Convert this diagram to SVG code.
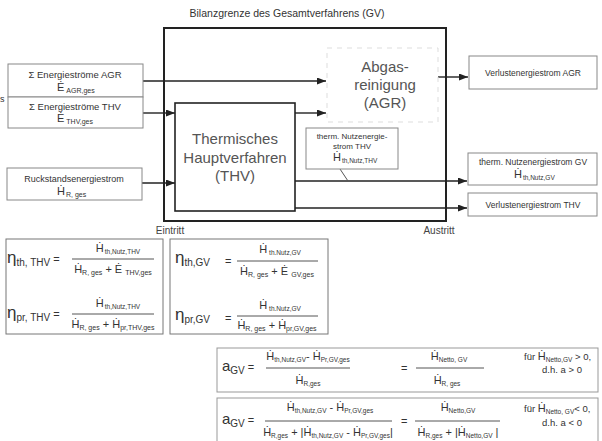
<svg xmlns="http://www.w3.org/2000/svg" width="602" height="441" viewBox="0 0 602 441">
  <style>
    text { font-family: "Liberation Sans", Arial, sans-serif; fill: #333; }
    .title { font-size: 10.5px; }
    .lbl { font-size: 9px; text-anchor: middle; }
    .big { font-size: 15px; text-anchor: middle; fill: #555; }
    .edge { font-size: 10px; text-anchor: middle; fill: #444; }
    .hd { font-size: 11px; }
    .sb7 { font-size: 7px; }
    .sb6 { font-size: 6.5px; }
    .op { font-size: 11px; }
    .eta { font-size: 17px; }
    .sub10 { font-size: 10px; }
    .aa { font-size: 15px; }
    .fur { font-size: 9.5px; }
    .mid { text-anchor: middle; }
    .box { fill: #fff; stroke: #888; stroke-width: 1; }
    .fbox { fill: none; stroke: #777; stroke-width: 1; }
    .fbox2 { fill: none; stroke: #999; stroke-width: 1; }
    .frac { stroke: #555; stroke-width: 1; }
    .flow { stroke: #222; stroke-width: 1.4; fill: none; }
  </style>
  <defs>
    <marker id="ah" markerWidth="9" markerHeight="7" refX="9" refY="3.5" orient="auto" markerUnits="userSpaceOnUse">
      <path d="M0,0 L9,3.5 L0,7 z" fill="#222"/>
    </marker>
  </defs>
  <rect width="602" height="441" fill="#fff"/>

  <text class="title" x="287" y="17" text-anchor="middle">Bilanzgrenze des Gesamtverfahrens (GV)</text>
  <text x="0" y="102" style="font-size:9px">s</text>

  <!-- system boundary -->
  <g id="gv-boundary">
    <rect x="164" y="28" width="282" height="193" fill="none" stroke="#222" stroke-width="2"/>
    <text class="edge" x="170" y="234">Eintritt</text>
    <text class="edge" x="439" y="234">Austritt</text>
  </g>

  <!-- connectors -->
  <g id="connectors">
    <line class="flow" x1="143" y1="81" x2="326" y2="81" marker-end="url(#ah)"/>
    <line class="flow" x1="143" y1="113" x2="175" y2="113" marker-end="url(#ah)"/>
    <line class="flow" x1="295" y1="113" x2="326" y2="113" marker-end="url(#ah)"/>
    <line class="flow" x1="142" y1="183" x2="175" y2="183" marker-end="url(#ah)"/>
    <line class="flow" x1="295" y1="181" x2="467" y2="181" marker-end="url(#ah)"/>
    <line class="flow" x1="295" y1="208" x2="467" y2="208" marker-end="url(#ah)"/>
    <line class="flow" x1="438" y1="77" x2="468" y2="77" marker-end="url(#ah)"/>
    <line x1="340" y1="169" x2="348" y2="181" stroke="#555" stroke-width="1"/>
  </g>

  <!-- inputs -->
  <g id="in-agr">
    <rect class="box" x="8" y="64" width="135" height="33"/>
    <text class="lbl" x="75" y="78" style="font-size:9.5px">Σ Energieströme AGR</text>
    <text x="57" y="91"><tspan class="hd">Ė</tspan><tspan class="sb7" dx="2" dy="2">AGR,ges</tspan></text>
  </g>
  <g id="in-thv">
    <rect class="box" x="8" y="97" width="135" height="31"/>
    <text class="lbl" x="75" y="110" style="font-size:9.5px">Σ Energieströme THV</text>
    <text x="57" y="122"><tspan class="hd">Ė</tspan><tspan class="sb7" dx="2" dy="2">THV,ges</tspan></text>
  </g>
  <g id="in-rueck">
    <rect class="box" x="7" y="168" width="135" height="32"/>
    <text class="lbl" x="74" y="182">Ruckstandsenergiestrom</text>
    <text x="57" y="195"><tspan class="hd">Ḣ</tspan><tspan class="sb7" dx="1" dy="2">R, ges</tspan></text>
  </g>

  <!-- processes -->
  <g id="thv">
    <rect x="175" y="103" width="120" height="108" fill="#fff" stroke="#222" stroke-width="1.6"/>
    <text class="big" x="235" y="144">Thermisches</text>
    <text class="big" x="235" y="163">Hauptverfahren</text>
    <text class="big" x="235" y="181">(THV)</text>
  </g>
  <g id="agr">
    <rect x="327" y="48" width="111" height="74" fill="none" stroke="#ddd" stroke-width="1" stroke-dasharray="5 5"/>
    <text class="big" x="385" y="72">Abgas-</text>
    <text class="big" x="385" y="90">reinigung</text>
    <text class="big" x="385" y="108">(AGR)</text>
  </g>
  <g id="nutz-thv">
    <rect class="box" x="306" y="128" width="92" height="41"/>
    <text class="lbl" x="352" y="139" style="font-size:8px">therm. Nutzenergie-</text>
    <text class="lbl" x="352" y="149" style="font-size:8px">strom THV</text>
    <text x="333" y="161"><tspan class="hd">Ḣ</tspan><tspan class="sb6" dx="1" dy="2">th,Nutz,THV</tspan></text>
  </g>

  <!-- outputs -->
  <g id="out-verl-agr">
    <rect class="box" x="469" y="56" width="128" height="33"/>
    <text class="lbl" x="533" y="76" style="font-size:8.5px">Verlustenergiestrom AGR</text>
  </g>
  <g id="out-nutz-gv">
    <rect class="box" x="468" y="153" width="129" height="32"/>
    <text class="lbl" x="533" y="165" style="font-size:8.5px">therm. Nutzenergiestrom GV</text>
    <text x="514" y="178"><tspan class="hd">Ḣ</tspan><tspan class="sb6" dx="1" dy="2">th,Nutz,GV</tspan></text>
  </g>
  <g id="out-verl-thv">
    <rect class="box" x="468" y="193" width="129" height="23"/>
    <text class="lbl" x="533" y="208" style="font-size:8.5px">Verlustenergiestrom THV</text>
  </g>

  <!-- efficiencies THV -->
  <g id="eta-thv">
    <rect class="fbox" x="6" y="239" width="157" height="95"/>
    <text x="7" y="263"><tspan class="eta">η</tspan><tspan class="sub10" dy="3">th, THV</tspan><tspan class="op" dy="-3"> =</tspan></text>
    <text class="mid" x="118" y="252"><tspan class="hd">Ḣ</tspan><tspan class="sb6" dx="1" dy="2">th,Nutz,THV</tspan></text>
    <line class="frac" x1="72" y1="259" x2="154" y2="259"/>
    <text class="mid" x="113" y="273"><tspan class="hd">Ḣ</tspan><tspan class="sb7" dy="2">R, ges</tspan><tspan class="op" dy="-2"> + Ė </tspan><tspan class="sb7" dy="2">THV,ges</tspan></text>
    <text x="7" y="318"><tspan class="eta">η</tspan><tspan class="sub10" dy="3">pr, THV</tspan><tspan class="op" dy="-3"> =</tspan></text>
    <text class="mid" x="118" y="307"><tspan class="hd">Ḣ</tspan><tspan class="sb6" dx="1" dy="2">th,Nutz,THV</tspan></text>
    <line class="frac" x1="72" y1="314" x2="154" y2="314"/>
    <text class="mid" x="113" y="328"><tspan class="hd">Ḣ</tspan><tspan class="sb7" dy="2">R, ges</tspan><tspan class="op" dy="-2"> + Ḣ</tspan><tspan class="sb7" dy="2">pr,THV,ges</tspan></text>
  </g>

  <!-- efficiencies GV -->
  <g id="eta-gv">
    <rect class="fbox" x="170" y="239" width="158" height="95"/>
    <text x="175" y="263"><tspan class="eta">η</tspan><tspan class="sub10" dy="3">th,GV</tspan></text>
    <text class="op" x="225" y="265">=</text>
    <text class="mid" x="280" y="253"><tspan class="hd">Ḣ</tspan><tspan class="sb6" dx="2" dy="2">th.Nutz,GV</tspan></text>
    <line class="frac" x1="237" y1="261" x2="318" y2="261"/>
    <text class="mid" x="277" y="275"><tspan class="hd">Ḣ</tspan><tspan class="sb7" dy="2">R, ges</tspan><tspan class="op" dy="-2"> + Ė </tspan><tspan class="sb7" dy="2">GV,ges</tspan></text>
    <text x="175" y="320"><tspan class="eta">η</tspan><tspan class="sub10" dy="3">pr,GV</tspan></text>
    <text class="op" x="225" y="322">=</text>
    <text class="mid" x="280" y="309"><tspan class="hd">Ḣ</tspan><tspan class="sb6" dx="2" dy="2">th.Nutz,GV</tspan></text>
    <line class="frac" x1="237" y1="316" x2="318" y2="316"/>
    <text class="mid" x="277" y="329"><tspan class="hd">Ḣ</tspan><tspan class="sb7" dy="2">R, ges</tspan><tspan class="op" dy="-2"> + Ḣ</tspan><tspan class="sb7" dy="2">pr,GV,ges</tspan></text>
  </g>

  <!-- yield, positive net -->
  <g id="a-pos">
    <rect class="fbox2" x="217" y="348" width="381" height="44"/>
    <text x="222" y="371"><tspan class="aa">a</tspan><tspan class="sub10" dy="3">GV</tspan><tspan class="op" dy="-3"> =</tspan></text>
    <text class="mid" x="308" y="360"><tspan class="hd">Ḣ</tspan><tspan class="sb6" dy="2">th,Nutz,GV</tspan><tspan class="op" dy="-2">- Ḣ</tspan><tspan class="sb6" dy="2">Pr,GV,ges</tspan></text>
    <line class="frac" x1="266" y1="368" x2="350" y2="368"/>
    <text class="mid" x="308" y="384"><tspan class="hd">Ḣ</tspan><tspan class="sb6" dy="2">R,ges</tspan></text>
    <text class="op" x="401" y="372" fill="#666">=</text>
    <text class="mid" x="449" y="360"><tspan class="hd">Ḣ</tspan><tspan class="sb6" dy="2">Netto, GV</tspan></text>
    <line class="frac" x1="416" y1="368" x2="484" y2="368" stroke="#999"/>
    <text class="mid" x="447" y="384"><tspan class="hd">Ḣ</tspan><tspan class="sb6" dy="2">R, ges</tspan></text>
    <text x="524" y="360"><tspan class="fur">für </tspan><tspan class="hd">Ḣ</tspan><tspan class="sb6" dy="2">Netto,GV</tspan><tspan class="fur" dy="-2"> &gt; 0,</tspan></text>
    <text class="fur mid" x="562" y="373">d.h. a &gt; 0</text>
  </g>

  <!-- yield, negative net -->
  <g id="a-neg">
    <rect class="fbox2" x="217" y="398" width="381" height="46"/>
    <text x="222" y="424"><tspan class="aa">a</tspan><tspan class="sub10" dy="3">GV</tspan><tspan class="op" dy="-3"> =</tspan></text>
    <text class="mid" x="330" y="411"><tspan class="hd">Ḣ</tspan><tspan class="sb6" dy="2">th,Nutz,GV</tspan><tspan class="op" dy="-2"> - Ḣ</tspan><tspan class="sb6" dy="2">Pr,GV,ges</tspan></text>
    <line class="frac" x1="265" y1="421" x2="392" y2="421"/>
    <text class="mid" x="328" y="436"><tspan class="hd">Ḣ</tspan><tspan class="sb6" dy="2">R,ges</tspan><tspan class="op" dy="-2"> + |Ḣ</tspan><tspan class="sb6" dy="2">th,Nutz,GV</tspan><tspan class="op" dy="-2"> - Ḣ</tspan><tspan class="sb6" dy="2">Pr,GV,ges</tspan><tspan class="op" dy="-2">|</tspan></text>
    <text class="op" x="401" y="425" fill="#666">=</text>
    <text class="mid" x="458" y="411"><tspan class="hd">Ḣ</tspan><tspan class="sb6" dy="2">Netto,GV</tspan></text>
    <line class="frac" x1="415" y1="421" x2="500" y2="421"/>
    <text class="mid" x="458" y="436"><tspan class="hd">Ḣ</tspan><tspan class="sb6" dy="2">R,ges</tspan><tspan class="op" dy="-2"> + |Ḣ</tspan><tspan class="sb6" dy="2">Netto,GV</tspan><tspan class="op" dy="-2"> |</tspan></text>
    <text x="524" y="412"><tspan class="fur">für </tspan><tspan class="hd">Ḣ</tspan><tspan class="sb6" dy="2">Netto, GV</tspan><tspan class="fur" dy="-2">&lt; 0,</tspan></text>
    <text class="fur mid" x="562" y="426">d.h. a &lt; 0</text>
  </g>
</svg>
